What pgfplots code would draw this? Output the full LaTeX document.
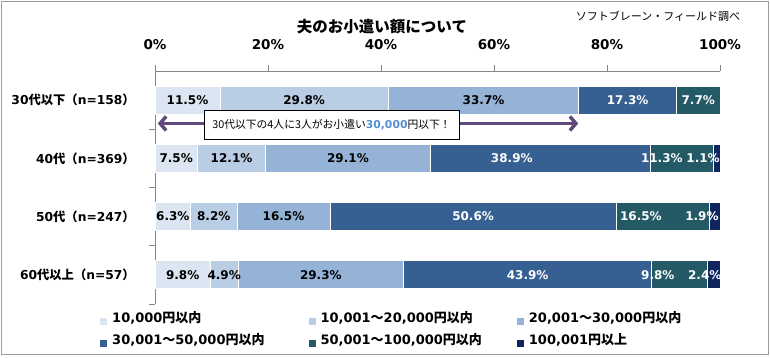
\documentclass[border=0pt]{standalone}
\usepackage{pgfplots}
\pgfplotsset{compat=1.18}
\usepackage{fontspec}
\setmainfont{Noto Sans CJK JP}
\newfontfamily\dv{DejaVu Sans}
\usetikzlibrary{arrows.meta}
\definecolor{c1}{HTML}{DCE6F2}
\definecolor{c2}{HTML}{B9CDE5}
\definecolor{c3}{HTML}{95B3D7}
\definecolor{c4}{HTML}{376092}
\definecolor{c5}{HTML}{235A66}
\definecolor{c6}{HTML}{10245E}
\definecolor{arrowc}{HTML}{604A7B}
\definecolor{bluetxt}{HTML}{558ED5}
\definecolor{axisgray}{HTML}{868686}
\begin{document}
\begin{tikzpicture}
\useasboundingbox (0,0) rectangle (770pt,-357pt);
\draw[color=axisgray!80, line width=0.8pt] (1pt,-1pt) rectangle (768pt,-354pt);
\node[font=\bfseries\fontsize{15.5}{18}\selectfont] at (382pt,-26.5pt) {夫のお小遣い額について};
\node[font=\fontsize{11}{13}\selectfont] at (658pt,-16pt) {ソフトブレーン・フィールド調べ};
\begin{axis}[
  at={(155pt,-71pt)}, anchor=north west, scale only axis,
  width=565pt, height=233pt,
  xbar stacked, bar width=28pt,
  xmin=0, xmax=100, ymin=-0.5, ymax=3.5,
  axis x line*=top, axis y line*=left,
  axis line style={color=axisgray, line width=0.8pt},
  tick align=outside, major tick length=6pt,
  tick style={color=axisgray, line width=0.8pt},
  xtick={0,20,40,60,80,100},
  xticklabels={0\%,20\%,40\%,60\%,80\%,100\%},
  xticklabel style={font=\dv\bfseries\fontsize{13.5}{16}\selectfont, anchor=center, yshift=20pt},
  ytick={-0.5,0.5,1.5,2.5}, yticklabels={},
  extra y ticks={0,1,2,3},
  extra y tick labels={{{\dv 60}代以上（{\dv n=57}）},{{\dv 50}代（{\dv n=247}）},{{\dv 40}代（{\dv n=369}）},{{\dv 30}代以下（{\dv n=158}）}},
  extra y tick style={major tick length=0pt, yticklabel style={font=\bfseries\fontsize{12.3}{14}\selectfont, anchor=east, inner sep=0pt, xshift=-20pt}},
  clip=false,
  legend cell align=left,
  legend columns=3,
  legend image code/.code={\path[#1, draw=none] (0pt,-7pt) rectangle (7pt,0pt);},
  legend style={draw=none, fill=none, inner sep=0pt, row sep=4pt,
    at={(axis description cs:-0.0973,-0.0215)}, anchor=north west,
    font=\bfseries\fontsize{13}{15}\selectfont,
    nodes={inner xsep=5pt, inner ysep=2pt, text height=11pt, text depth=3pt},
    /tikz/column 2/.append style={column sep=39pt},
    /tikz/column 4/.append style={column sep=30pt}},
]
\addplot[fill=c1, draw=white, line width=0.8pt] coordinates {(11.5,3) (7.5,2) (6.3,1) (9.8,0)};
\addlegendentry{{\dv 10,000}円以内}
\addplot[fill=c2, draw=white, line width=0.8pt] coordinates {(29.8,3) (12.1,2) (8.2,1) (4.9,0)};
\addlegendentry{{\dv 10,001}～{\dv 20,000}円以内}
\addplot[fill=c3, draw=white, line width=0.8pt] coordinates {(33.7,3) (29.1,2) (16.5,1) (29.3,0)};
\addlegendentry{{\dv 20,001}～{\dv 30,000}円以内}
\addplot[fill=c4, draw=white, line width=0.8pt] coordinates {(17.3,3) (38.9,2) (50.6,1) (43.9,0)};
\addlegendentry{{\dv 30,001}～{\dv 50,000}円以内}
\addplot[fill=c5, draw=white, line width=0.8pt] coordinates {(7.7,3) (11.3,2) (16.5,1) (9.8,0)};
\addlegendentry{{\dv 50,001}～{\dv 100,000}円以内}
\addplot[fill=c6, draw=white, line width=0.8pt] coordinates {(0,3) (1.1,2) (1.9,1) (2.4,0)};
\addlegendentry{{\dv 100,001}円以上}
\coordinate (arrL) at (axis cs:0.5,2.599);
\coordinate (arrR) at (axis cs:74.9,2.599);
\coordinate (boxC) at (axis cs:31.24,2.582);
\end{axis}
\begin{axis}[
  at={(155pt,-71pt)}, anchor=north west, scale only axis,
  width=565pt, height=233pt,
  xmin=0, xmax=100, ymin=-0.5, ymax=3.5,
  hide axis, clip=false,
]
\addplot[draw=none, mark=none, point meta=explicit symbolic,
  nodes near coords={\pgfplotspointmeta\%}, nodes near coords align={center},
  every node near coord/.append style={font=\dv\bfseries\fontsize{12}{14}\selectfont, text=black, inner sep=0pt}]
  table[meta=l] {
x y l
5.75 3 11.5
26.4 3 29.8
58.15 3 33.7
3.75 2 7.5
13.55 2 12.1
34.15 2 29.1
3.15 1 6.3
10.4 1 8.2
22.75 1 16.5
4.9 0 9.8
12.25 0 4.9
29.35 0 29.3
};
\addplot[draw=none, mark=none, point meta=explicit symbolic,
  nodes near coords={\pgfplotspointmeta\%}, nodes near coords align={center},
  every node near coord/.append style={font=\dv\bfseries\fontsize{12}{14}\selectfont, text=white, inner sep=0pt}]
  table[meta=l] {
x y l
83.65 3 17.3
96.15 3 7.7
63.15 2 38.9
89.7 2 11.3
97.0 2 1.1
56.3 1 50.6
86.0 1 16.5
96.8 1 1.9
65.95 0 43.9
89.0 0 9.8
97.3 0 2.4
};
\end{axis}
\draw[arrowc, line width=3.5pt, {Straight Barb[length=6pt,width=14pt]}-{Straight Barb[length=6pt,width=14pt]}] (arrL) -- (arrR);
\node[draw=black, fill=white, line width=0.8pt, minimum width=255pt, minimum height=29pt, inner sep=0pt, font=\fontsize{10.8}{13}\selectfont] at (boxC) {30代以下の4人に3人がお小遣い\textcolor{bluetxt}{\dv\bfseries 30,000}円以下！};
\end{tikzpicture}
\end{document}
